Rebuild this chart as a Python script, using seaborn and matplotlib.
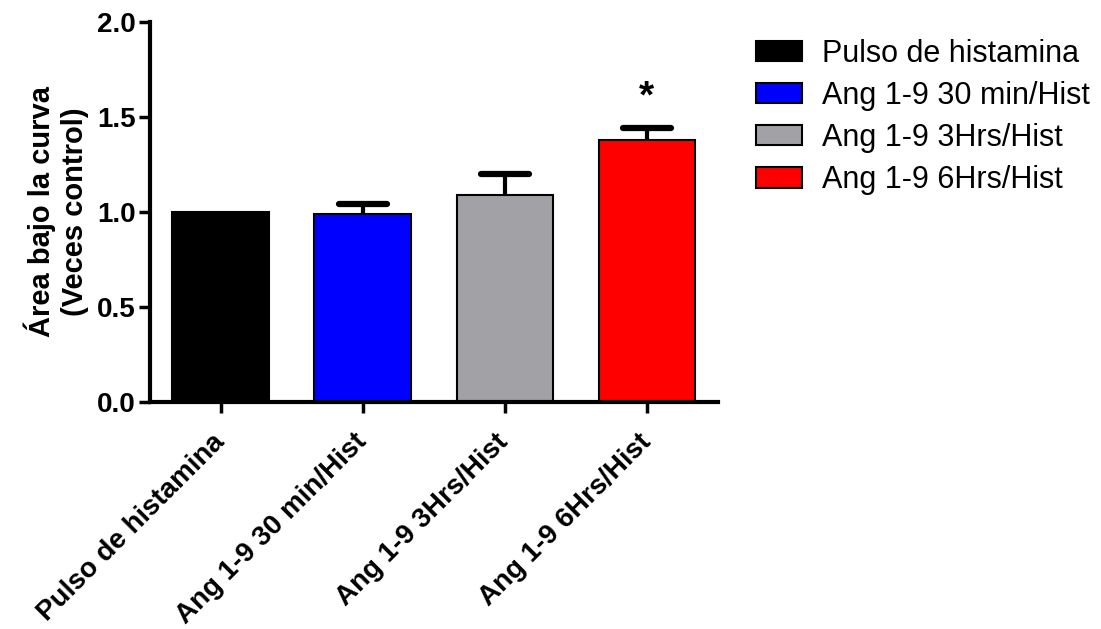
import numpy as np
import pandas as pd
import matplotlib
matplotlib.use("Agg")
import matplotlib.pyplot as plt
import seaborn as sns

# data
groups = ["Pulso de histamina", "Ang 1-9 30 min/Hist", "Ang 1-9 3Hrs/Hist", "Ang 1-9 6Hrs/Hist"]
means = [1.0, 0.99, 1.09, 1.38]
sem = [0.0, 0.05, 0.11, 0.06]
colors = ["#000000", "#0000ff", "#a2a1a6", "#ff0000"]
signif = ["", "", "", "*"]

df = pd.DataFrame({"grupo": groups, "valor": means})

sns.set_style("ticks", rc={"text.color": "black", "axes.labelcolor": "black",
                           "xtick.color": "black", "ytick.color": "black",
                           "axes.edgecolor": "black"})
plt.rcParams["font.family"] = ["Liberation Sans", "DejaVu Sans"]

fig = plt.figure(figsize=(11.01, 6.29), dpi=100)
ax = fig.add_axes([0.136, 0.361, 0.516, 0.604])

sns.barplot(data=df, x="grupo", y="valor", hue="grupo", palette=colors,
            dodge=False, width=0.68, saturation=1, edgecolor="black",
            linewidth=1.5, legend=False, ax=ax, zorder=2)

# upper error bars only (stem + top cap), skip groups without error
x = np.arange(len(groups))
m = np.array(means)
s = np.array(sem)
has_err = s > 0
ax.vlines(x[has_err], m[has_err], m[has_err] + s[has_err], color="black",
          linewidth=3, zorder=1)
ax.hlines(m[has_err] + s[has_err], x[has_err] - 0.17, x[has_err] + 0.17,
          color="black", linewidth=4.5, capstyle="round", zorder=1)

for xi, mi, si, lab in zip(x, m, s, signif):
    if lab:
        ax.text(xi, mi + si + 0.07, lab, ha="center", va="bottom",
                fontsize=28, fontweight="bold")

ax.set_xlim(-0.5, 3.5)
ax.set_ylim(0, 2.0)
ax.set_yticks([0.0, 0.5, 1.0, 1.5, 2.0])
ax.set_yticklabels([f"{v:.1f}" for v in [0.0, 0.5, 1.0, 1.5, 2.0]],
                   fontsize=20, fontweight="bold")
ax.set_xticks(x)
ax.set_xticklabels(groups, rotation=45, ha="right", va="center",
                   rotation_mode="anchor", fontsize=20, fontweight="bold")
ax.set_xlabel("")
ax.set_ylabel("Área bajo la curva\n(Veces control)", fontsize=21,
              fontweight="bold", labelpad=6, linespacing=1.2)

for side in ["top", "right"]:
    ax.spines[side].set_visible(False)
for side in ["left", "bottom"]:
    ax.spines[side].set_linewidth(3)
ax.tick_params(axis="both", width=2.5, length=8, direction="out")
ax.tick_params(axis="y", pad=2)
ax.tick_params(axis="x", pad=18)

handles = [plt.Rectangle((0, 0), 1, 1, facecolor=c, edgecolor="black", linewidth=1.5)
           for c in colors]
fig.legend(handles, groups, loc="upper left", bbox_to_anchor=(0.673, 0.963),
           frameon=False, fontsize=22, handlelength=1.5, handleheight=0.65,
           labelspacing=0.4, handletextpad=0.65, borderpad=0)

fig.savefig("out.png", dpi=100)
